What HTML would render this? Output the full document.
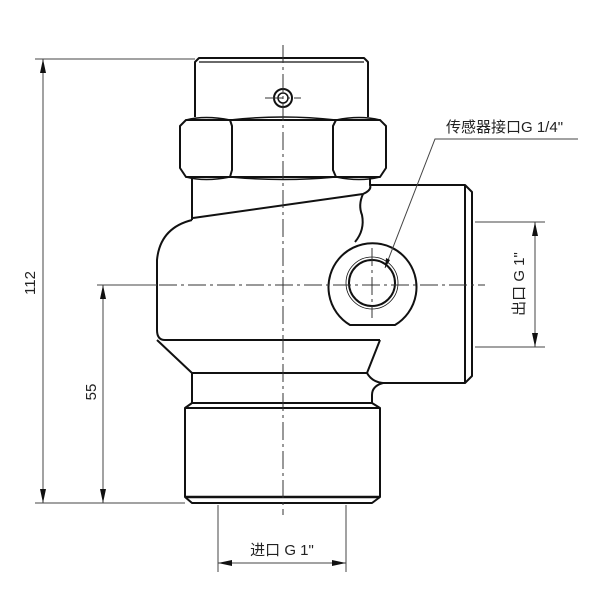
<!DOCTYPE html>
<html><head><meta charset="utf-8"><style>body{margin:0;background:#fff}svg{display:block}</style></head><body>
<svg width="600" height="600" viewBox="0 0 600 600" xmlns="http://www.w3.org/2000/svg" font-family="Liberation Sans, Noto Sans CJK SC, sans-serif">
<g fill="none" stroke="#111" stroke-width="2" stroke-linejoin="round">
<!-- top cap -->
<path d="M195,117 V62 L199,58 H364 L368,62 V117"/>
<line x1="199" y1="62" x2="364" y2="62" stroke-width="1.2"/>
<circle cx="283" cy="98" r="9"/><circle cx="283" cy="98" r="5" stroke-width="1.5"/>
<!-- hex nut -->
<path d="M186,120 L180,126 V168 L186,177 H380 L386,168 V126 L380,120 Z"/>
<path d="M186,120 Q205,115 230,120 Q283,114 336,120 Q360,115 380,120" stroke-width="1.5"/>
<path d="M186,177 Q205,182 230,177 Q283,182 336,177 Q360,182 380,177" stroke-width="1.5"/>
<path d="M230,120 L232,126 V170 L230,177 M336,120 L333,126 V170 L336,177"/>
<!-- body -->
<path d="M192,177 V220"/>
<path d="M370,177 V185 H465 L472,192 V376 L465,383 H383"/>
<line x1="465" y1="185" x2="465" y2="383"/>
<path d="M192,220 Q160,228 157,260 V330 Q157,340 165,340 H380"/>
<path d="M193,218 L363,194 Q372,190 370,185"/>
<path d="M363,194 Q358,205 362,215 Q365,230 355,242"/>
<path d="M157,340 L192,373 H367 L380,340"/>
<!-- boss -->
<path d="M350,325 A44,44 0 1 1 395,325 Z"/>
<circle cx="372" cy="283" r="23"/>
<circle cx="372" cy="283" r="26" stroke-width="0.8"/>
<!-- neck -->
<path d="M192,373 V403 M367,373 Q372,382 383,383 Q372,386 372,395 V403"/>
<!-- thread -->
<path d="M192,403 H372 L380,408 V497 L372,503 H192 L185,497 V408 Z"/>
<line x1="185" y1="408" x2="380" y2="408"/>
<line x1="185" y1="497" x2="380" y2="497" stroke-width="2.5"/>
</g>
<!-- centerlines -->
<g stroke="#333" stroke-width="1" stroke-dasharray="18,4,3,4" fill="none">
<line x1="283" y1="45" x2="283" y2="515"/>
<line x1="130" y1="285" x2="485" y2="285"/>
<line x1="372" y1="248" x2="372" y2="318"/>
<line x1="265" y1="98" x2="301" y2="98"/>
</g>
<!-- dimensions -->
<g stroke="#444" stroke-width="1" fill="none">
<line x1="35" y1="59" x2="195" y2="59"/>
<line x1="35" y1="503" x2="185" y2="503"/>
<line x1="43" y1="59" x2="43" y2="503"/>
<line x1="97" y1="285" x2="157" y2="285"/>
<line x1="103" y1="285" x2="103" y2="503"/>
<line x1="218" y1="505" x2="218" y2="572"/>
<line x1="346" y1="505" x2="346" y2="572"/>
<line x1="218" y1="563" x2="346" y2="563"/>
<line x1="475" y1="222" x2="545" y2="222"/>
<line x1="475" y1="347" x2="545" y2="347"/>
<line x1="535" y1="222" x2="535" y2="347"/>
<polyline points="385,268 435,139 578,139"/>
</g>
<g fill="#111">
<path d="M43,59 l-3,14 h6 Z M43,503 l-3,-14 h6 Z"/>
<path d="M103,285 l-3,14 h6 Z M103,503 l-3,-14 h6 Z"/>
<path d="M218,563 l14,-3 v6 Z M346,563 l-14,-3 v6 Z"/>
<path d="M535,222 l-3,14 h6 Z M535,347 l-3,-14 h6 Z"/>
<path d="M385,268 l1,-10 l4,2 Z"/>
</g>
<g fill="#222" font-size="15">
<text transform="translate(35,283) rotate(-90)" text-anchor="middle">112</text>
<text transform="translate(96,392) rotate(-90)" text-anchor="middle">55</text>
<text x="282" y="555" text-anchor="middle">进口 G 1"</text>
<text x="446" y="132" font-size="15">传感器接口G 1/4"</text>
<text transform="translate(524,284) rotate(-90)" text-anchor="middle">出口 G 1"</text>
</g>
</svg>
</body></html>
